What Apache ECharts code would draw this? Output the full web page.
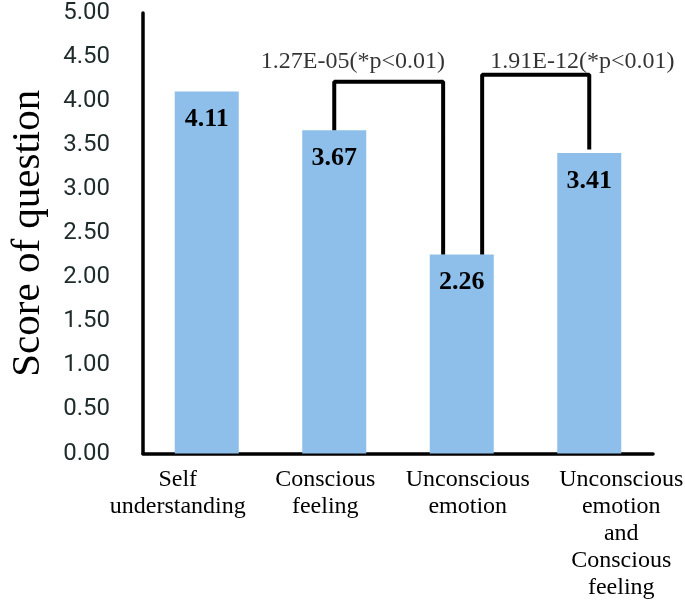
<!DOCTYPE html>
<html>
<head>
<meta charset="utf-8">
<script src="https://cdn.jsdelivr.net/npm/echarts@6/dist/echarts.min.js"></script>
<style>html,body{margin:0;padding:0;background:#fff;}#c{width:685px;height:600px;}</style>
</head>
<body>
<div id="c"></div>
<script>
// ---- data ----
var categories = ['Self\nunderstanding', 'Conscious\nfeeling', 'Unconscious\nemotion', 'Unconscious\nemotion\nand\nConscious\nfeeling'];
var scores = [4.11, 3.67, 2.26, 3.41];
var yTicks = [0, 0.5, 1, 1.5, 2, 2.5, 3, 3.5, 4, 4.5, 5];
// significance brackets (x in category units 0..4, y in score units)
var bracket1 = [[1.5, 3.67], [1.5, 4.22], [2.354, 4.22], [2.354, 2.26]];
var bracket2 = [[2.66, 2.26], [2.66, 4.30], [3.5, 4.30], [3.5, 3.45]];
var pTexts = ['1.27E-05(*p<0.01)', '1.91E-12(*p<0.01)'];
var pPoints = [[1.646, 4.45], [3.446, 4.45]];

// ---- styles ----
var labelShift = [-29, -9, 6, 32];
var serif = '"Liberation Serif", "Times New Roman", serif';
var rich = {};
labelShift.forEach(function (d, i) {
  rich['c' + i] = {
    fontFamily: serif, fontSize: 24, lineHeight: 27, color: '#000',
    padding: d >= 0 ? [0, 0, 0, 2 * d] : [0, -2 * d, 0, 0]
  };
});

var chart = echarts.init(document.getElementById('c'), null, {renderer: 'canvas'});
chart.setOption({
  animation: false,
  backgroundColor: '#fff',
  grid: {left: 134, right: 31, top: 13, bottom: 143, containLabel: false},
  xAxis: [{
    type: 'category',
    data: categories,
    axisLine: {lineStyle: {color: '#000', width: 3.5}},
    axisTick: {show: false},
    axisLabel: {
      interval: 0, margin: 13,
      formatter: function (v, i) {
        return v.split('\n').map(function (s) { return '{c' + i + '|' + s + '}'; }).join('\n');
      },
      rich: rich
    }
  }, {
    type: 'value', min: 0, max: 4, show: false
  }],
  yAxis: {
    type: 'value', min: 0, max: 5, interval: 0.5,
    name: 'Score of question', nameLocation: 'middle', nameGap: 94,
    nameTextStyle: {fontFamily: serif, fontSize: 41, color: '#000'},
    axisLine: {show: true, lineStyle: {color: '#000', width: 3.5}},
    axisTick: {show: false},
    splitLine: {show: false},
    axisLabel: {
      margin: 33, fontFamily: 'Roboto, sans-serif', fontSize: 24, color: '#1f2a2a',
      formatter: function (v) { return v.toFixed(2); }
    }
  },
  series: [{
    type: 'bar',
    data: scores,
    barWidth: 64,
    itemStyle: {color: '#8DBFEA'},
    label: {
      show: true, position: 'insideTop', distance: 15,
      fontFamily: serif, fontSize: 26, fontWeight: 'bold', color: '#000',
      formatter: function (p) { return p.value.toFixed(2); }
    }
  }, {
    type: 'line', xAxisIndex: 1, data: bracket1, symbol: 'none',
    lineStyle: {color: '#000', width: 4}
  }, {
    type: 'line', xAxisIndex: 1, data: bracket2, symbol: 'none',
    lineStyle: {color: '#000', width: 4}
  }, {
    type: 'scatter', xAxisIndex: 1, symbolSize: 0,
    data: pPoints.map(function (p, i) { return {value: p, name: pTexts[i]}; }),
    label: {
      show: true, position: 'inside',
      fontFamily: serif, fontSize: 24, color: '#000',
      formatter: function (p) { return p.name; }
    }
  }]
});
</script>
</body>
</html>
